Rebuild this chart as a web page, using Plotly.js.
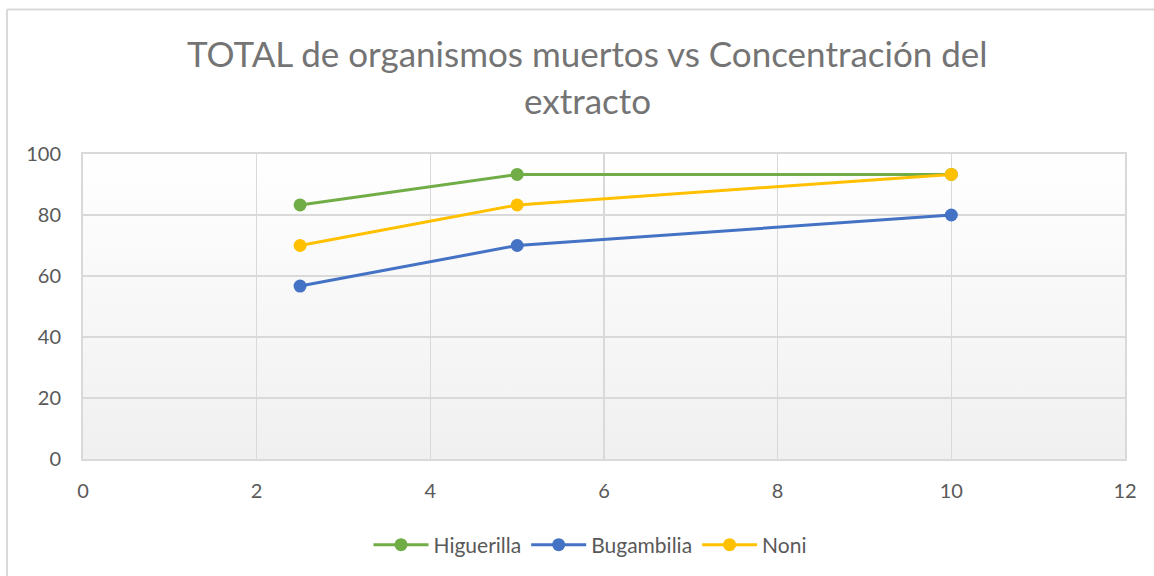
<!DOCTYPE html>
<html>
<head>
<meta charset="utf-8">
<script src="https://cdn.plot.ly/plotly-3.0.1.min.js"></script>
<style>html,body{margin:0;padding:0;background:#fff;}#chart{width:1154px;height:576px;}</style>
</head>
<body>
<div id="chart"></div>
<script>
const concentrations = [2.5, 5, 10];
const higuerilla = [83.3, 93.3, 93.3];
const bugambilia = [56.7, 70, 80];
const noni = [70, 83.3, 93.3];
const seriesNames = ["Higuerilla", "Bugambilia", "Noni"];
const seriesColors = ["#70AD47", "#4472C4", "#FFC000"];
const xTicks = [0, 2, 4, 6, 8, 10, 12];
const yTicks = [0, 20, 40, 60, 80, 100];
const titleLines = ["TOTAL de organismos muertos vs Concentración del", "extracto"];

const seriesValues = [higuerilla, bugambilia, noni];
const traces = seriesValues.map((vals, i) => ({
  x: concentrations, y: vals, name: seriesNames[i], type: "scatter", mode: "lines+markers",
  line: {color: seriesColors[i], width: 3},
  marker: {color: seriesColors[i], size: 13}
}));

const W = 1154, H = 576, L = 83, R = 29, T = 154, B = 116;
const pw = W - L - R, ph = H - T - B;
const py = (px) => (H - B - px) / ph;
const gradSvg = '<svg xmlns="http://www.w3.org/2000/svg" width="100" height="100" preserveAspectRatio="none"><defs><linearGradient id="g" x1="0" y1="0" x2="0" y2="1"><stop offset="0" stop-color="#ffffff"/><stop offset="1" stop-color="#f0f0f0"/></linearGradient></defs><rect width="100" height="100" fill="url(#g)"/></svg>';

const grid = "#d9d9d9";
const fontFam = "Lato, 'Open Sans', sans-serif";
const titleY = [53, 100];
const layout = {
  width: W, height: H,
  margin: {l: L, r: R, t: T, b: B},
  paper_bgcolor: "#ffffff", plot_bgcolor: "rgba(0,0,0,0)",
  font: {family: fontFam, color: "#595959"},
  annotations: titleLines.map((t, i) => ({
    text: t, xref: "paper", yref: "paper", x: (587 - L) / pw, y: py(titleY[i]), xanchor: "center", yanchor: "middle",
    showarrow: false, font: {size: 35, color: "#747474", family: fontFam}
  })),
  xaxis: {range: [0, 12], tickvals: xTicks, ticktext: xTicks.map(String), showgrid: true, gridcolor: grid, gridwidth: 1.5,
    zeroline: false, showline: true, linecolor: grid, linewidth: 2, mirror: true, ticks: "", tickfont: {size: 20, color: "#595959"}, ticklabelstandoff: 13, fixedrange: true},
  yaxis: {range: [0, 100], tickvals: yTicks, ticktext: yTicks.map(String), showgrid: true, gridcolor: grid, gridwidth: 1.5,
    zeroline: false, showline: true, linecolor: grid, linewidth: 2, mirror: true, ticks: "", tickfont: {size: 20, color: "#595959"}, ticklabelstandoff: 16, fixedrange: true},
  legend: {orientation: "h", x: (590 - L) / pw, xanchor: "center", y: py(545), yanchor: "middle", font: {size: 21, color: "#595959"}, bgcolor: "rgba(0,0,0,0)", itemwidth: 55},
  showlegend: true,
  images: [{source: "data:image/svg+xml;charset=utf-8," + encodeURIComponent(gradSvg), xref: "paper", yref: "paper",
    x: 0, y: 1, sizex: 1, sizey: 1, xanchor: "left", yanchor: "top", sizing: "stretch", layer: "below"}],
  shapes: [
    {type: "line", xref: "paper", yref: "paper", x0: (7 - L) / pw, x1: (7 - L) / pw, y0: py(H + 10), y1: py(9), line: {color: "#d9d9d9", width: 2}},
    {type: "line", xref: "paper", yref: "paper", x0: (7 - L) / pw, x1: (W + 10 - L) / pw, y0: py(9), y1: py(9), line: {color: "#d9d9d9", width: 2}}
  ]
};

Plotly.newPlot("chart", traces, layout, {displayModeBar: false, staticPlot: true});
</script>
</body>
</html>
